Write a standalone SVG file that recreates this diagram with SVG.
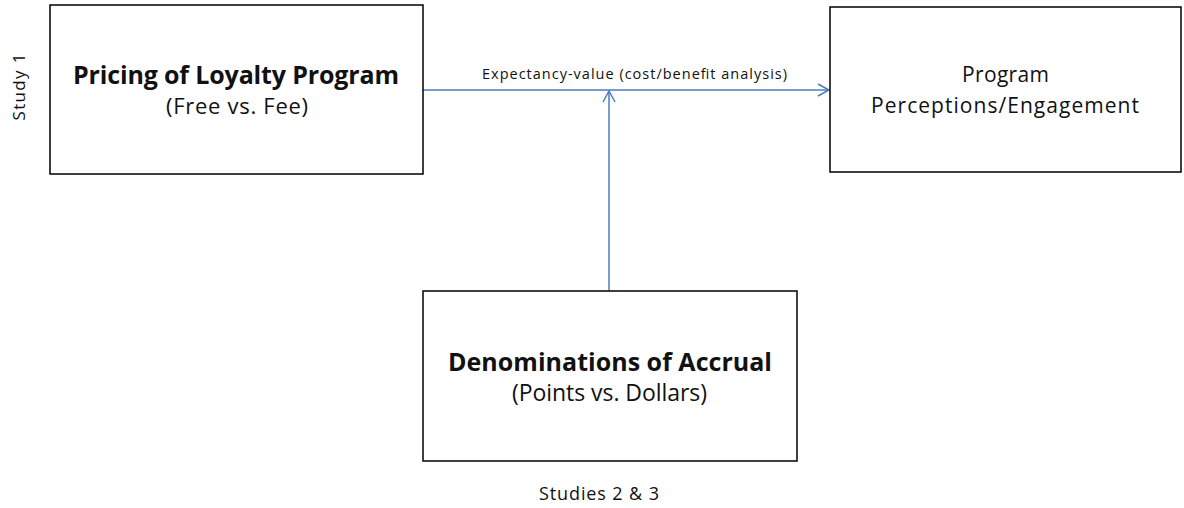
<svg xmlns="http://www.w3.org/2000/svg" width="1184" height="508" viewBox="0 0 1184 508">
<defs>
<style>
.box{fill:#fff;stroke:#000;stroke-width:1.5}
.t{font-family:"Open Sans","Liberation Sans",sans-serif;fill:#111;text-anchor:middle}
.b{font-weight:bold}
.conn{stroke:#4a7ebb;stroke-width:1.5;fill:none}
</style>
<marker id="arr" markerWidth="14" markerHeight="14" refX="12" refY="7" orient="auto" markerUnits="userSpaceOnUse">
<path d="M1,1 L12,7 L1,13" fill="none" stroke="#4a7ebb" stroke-width="1.5"/>
</marker>
</defs>
<rect width="1184" height="508" fill="#fff"/>
<g id="connectors">
<line class="conn" x1="423" y1="90" x2="829" y2="90" marker-end="url(#arr)"/>
<line class="conn" x1="609" y1="291" x2="609" y2="91" marker-end="url(#arr)"/>
<text class="t" x="634.5" y="79" font-size="14.5" textLength="305" lengthAdjust="spacing">Expectancy-value (cost/benefit analysis)</text>
</g>
<g id="pricing">
<rect class="box" x="50" y="5" width="373" height="169"/>
<text class="t b" x="236" y="84" font-size="25" textLength="326" lengthAdjust="spacing">Pricing of Loyalty Program</text>
<text class="t" x="237" y="114" font-size="22" textLength="142" lengthAdjust="spacing">(Free vs. Fee)</text>
</g>
<g id="perceptions">
<rect class="box" x="830" y="7" width="351" height="165"/>
<text class="t" x="1005.5" y="82" font-size="21" textLength="87" lengthAdjust="spacing">Program</text>
<text class="t" x="1005" y="113" font-size="21" textLength="268" lengthAdjust="spacing">Perceptions/Engagement</text>
</g>
<g id="denominations">
<rect class="box" x="423" y="291" width="374" height="170"/>
<text class="t b" x="610" y="371" font-size="25" textLength="324" lengthAdjust="spacing">Denominations of Accrual</text>
<text class="t" x="609.5" y="401" font-size="23" textLength="195" lengthAdjust="spacing">(Points vs. Dollars)</text>
</g>
<g id="labels">
<text class="t" x="599" y="500" font-size="18" textLength="120" lengthAdjust="spacing">Studies 2 &amp; 3</text>
<text class="t" x="0" y="0" font-size="17" textLength="67" lengthAdjust="spacing" transform="translate(25,87) rotate(-90)">Study 1</text>
</g>
</svg>
